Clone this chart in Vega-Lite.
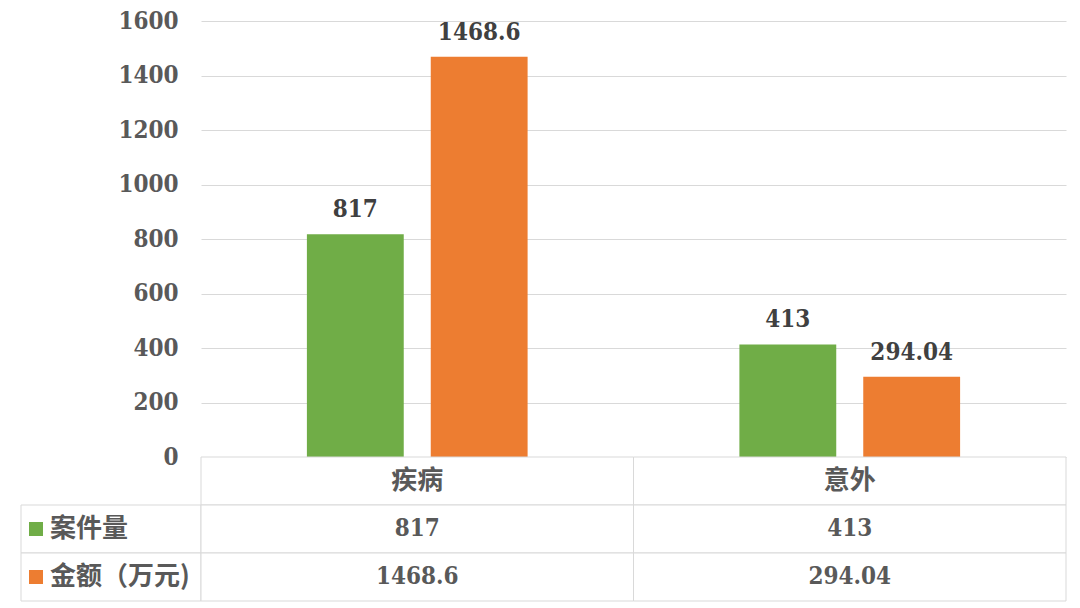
{
  "$schema": "https://vega.github.io/schema/vega-lite/v6.json",
  "padding": {"left": 20, "top": 9, "right": 15, "bottom": 6},
  "background": "white",
  "config": {"view": {"stroke": null}},
  "datasets": {
    "bars": [
      {"category": "疾病", "series": "案件量", "value": 817},
      {"category": "疾病", "series": "金额（万元)", "value": 1468.6},
      {"category": "意外", "series": "案件量", "value": 413},
      {"category": "意外", "series": "金额（万元)", "value": 294.04}
    ],
    "table": [
      {"category": "疾病", "row": "类别", "label": "疾病"},
      {"category": "疾病", "row": "案件量", "label": "817"},
      {"category": "疾病", "row": "金额（万元)", "label": "1468.6"},
      {"category": "意外", "row": "类别", "label": "意外"},
      {"category": "意外", "row": "案件量", "label": "413"},
      {"category": "意外", "row": "金额（万元)", "label": "294.04"}
    ]
  },
  "columns": 2,
  "spacing": 0,
  "bounds": "flush",
  "align": "each",
  "concat": [
    {
      "width": 180,
      "height": 436,
      "data": {"values": []},
      "mark": {"type": "text"},
      "encoding": {}
    },
    {
      "width": 865,
      "height": 436,
      "data": {"name": "bars"},
      "encoding": {
        "x": {"field": "category", "type": "nominal", "sort": ["疾病", "意外"], "scale": {"paddingInner": 0, "paddingOuter": 0}, "axis": null},
        "xOffset": {"field": "series", "type": "nominal", "sort": ["案件量", "金额（万元)"], "scale": {"paddingInner": 0.218, "paddingOuter": 0.855}},
        "y": {
          "field": "value", "type": "quantitative",
          "scale": {"domain": [0, 1600], "nice": false},
          "axis": {
            "values": [0, 200, 400, 600, 800, 1000, 1200, 1400, 1600],
            "format": "d",
            "title": null, "domain": false, "ticks": false, "labelPadding": 23,
            "gridColor": "#D9D9D9", "gridWidth": 1,
            "labelFont": "DejaVu Serif Condensed, DejaVu Serif", "labelFontSize": 24, "labelFontWeight": "bold", "labelColor": "#595959"
          }
        }
      },
      "layer": [
        {
          "mark": {"type": "bar"},
          "encoding": {
            "color": {"field": "series", "type": "nominal", "scale": {"domain": ["案件量", "金额（万元)"], "range": ["#70AD47", "#ED7D31"]}, "legend": null}
          }
        },
        {
          "mark": {"type": "text", "baseline": "alphabetic", "dy": -17, "font": "DejaVu Serif Condensed, DejaVu Serif", "fontSize": 24, "fontWeight": "bold", "color": "#404040"},
          "encoding": {"text": {"field": "value", "type": "nominal"}}
        }
      ]
    },
    {
      "width": 180,
      "height": 144,
      "data": {"name": "table"},
      "transform": [{"filter": "datum.category == '疾病' && datum.row != '类别'"}],
      "encoding": {
        "y": {"field": "row", "type": "nominal", "scale": {"domain": ["类别", "案件量", "金额（万元)"], "paddingInner": 0, "paddingOuter": 0}, "axis": null}
      },
      "layer": [
        {"mark": {"type": "rect", "fill": "white", "stroke": "#D9D9D9", "strokeWidth": 1}, "encoding": {}},
        {
          "mark": {"type": "point", "shape": "square", "filled": true, "size": 196, "xOffset": -75, "opacity": 1},
          "encoding": {"color": {"field": "row", "type": "nominal", "scale": {"domain": ["案件量", "金额（万元)"], "range": ["#70AD47", "#ED7D31"]}, "legend": null}}
        },
        {
          "mark": {"type": "text", "align": "left", "dx": -61, "font": "Noto Sans CJK SC", "fontSize": 26, "fontWeight": "bold", "color": "#595959"},
          "encoding": {"text": {"field": "row"}}
        }
      ]
    },
    {
      "width": 865,
      "height": 144,
      "data": {"name": "table"},
      "encoding": {
        "x": {"field": "category", "type": "nominal", "sort": ["疾病", "意外"], "scale": {"paddingInner": 0, "paddingOuter": 0}, "axis": null},
        "y": {"field": "row", "type": "nominal", "scale": {"domain": ["类别", "案件量", "金额（万元)"], "paddingInner": 0, "paddingOuter": 0}, "axis": null}
      },
      "layer": [
        {"mark": {"type": "rect", "fill": "white", "stroke": "#D9D9D9", "strokeWidth": 1}, "encoding": {}},
        {
          "transform": [{"filter": "datum.row == '类别'"}],
          "mark": {"type": "text", "font": "Noto Sans CJK SC", "fontSize": 26, "fontWeight": "bold", "color": "#595959"},
          "encoding": {"text": {"field": "label"}}
        },
        {
          "transform": [{"filter": "datum.row != '类别'"}],
          "mark": {"type": "text", "font": "DejaVu Serif Condensed, DejaVu Serif", "fontSize": 24, "fontWeight": "bold", "color": "#595959"},
          "encoding": {"text": {"field": "label"}}
        }
      ]
    }
  ]
}
